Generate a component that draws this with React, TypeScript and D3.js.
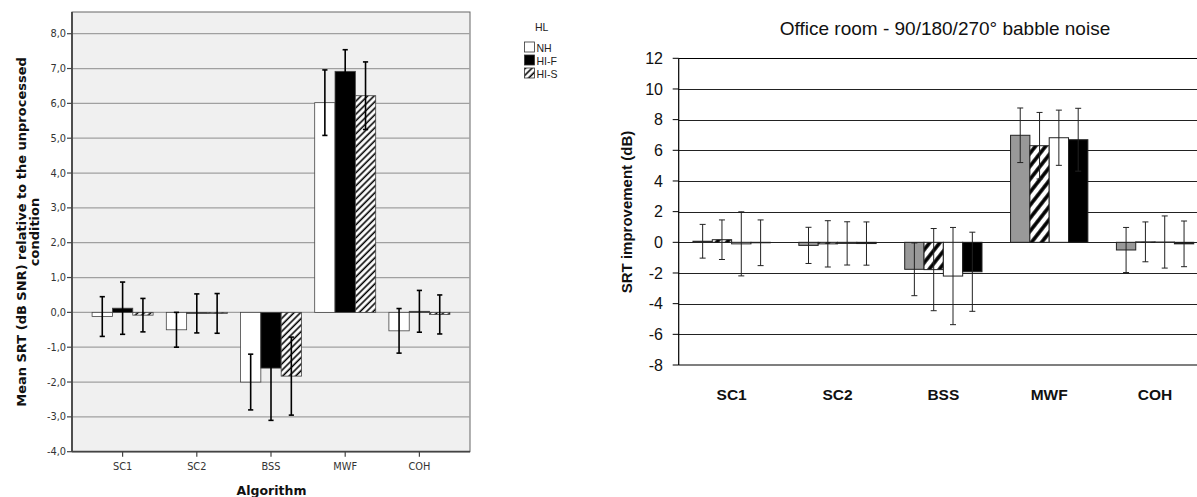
import React from "react";
import * as d3 from "d3";

// ---------- Left panel data (SPSS chart) ----------
const leftCats = ["SC1", "SC2", "BSS", "MWF", "COH"];
const leftSeries = ["NH", "HI-F", "HI-S"];
const nhMean = [-0.12, -0.5, -2.0, 6.02, -0.53];
const nhErr = [0.57, 0.5, 0.8, 0.94, 0.64];
const hifMean = [0.12, -0.03, -1.6, 6.92, 0.03];
const hifErr = [0.75, 0.56, 1.5, 0.62, 0.6];
const hisMean = [-0.08, -0.03, -1.83, 6.22, -0.06];
const hisErr = [0.48, 0.57, 1.12, 0.97, 0.56];
const leftTicks = [-4, -3, -2, -1, 0, 1, 2, 3, 4, 5, 6, 7, 8];

// ---------- Right panel data (Excel chart) ----------
const rightCats = ["SC1", "SC2", "BSS", "MWF", "COH"];
const rightSeries = ["gray", "hatched", "white", "black"];
const grayMean = [0.07, -0.2, -1.76, 6.98, -0.5];
const grayErr = [1.1, 1.18, 1.72, 1.78, 1.47];
const hatchMean = [0.17, -0.1, -1.78, 6.3, 0.03];
const hatchErr = [1.29, 1.51, 2.68, 2.17, 1.3];
const whiteMean = [-0.1, -0.07, -2.2, 6.82, 0.02];
const whiteErr = [2.09, 1.41, 3.17, 1.8, 1.7];
const blackMean = [-0.03, -0.08, -1.92, 6.69, -0.1];
const blackErr = [1.49, 1.41, 2.58, 2.05, 1.49];
const rightTicks = [-8, -6, -4, -2, 0, 2, 4, 6, 8, 10, 12];

export default function App() {
  const W = 1197;
  const H = 497;

  // Left geometry
  const L = { x0: 72, x1: 470, y0: 12, y1: 451.7 };
  const yL = d3.scaleLinear().domain([-4, 8]).range([451.7, 33.7]);
  const xL = d3.scalePoint<string>().domain(leftCats).range([L.x0, L.x1]).padding(0.682);
  const xLs = d3.scaleBand<string>().domain(leftSeries).range([-30.5, 30.5]);
  const leftData = [
    { s: "NH", mean: nhMean, err: nhErr, fill: "#ffffff" },
    { s: "HI-F", mean: hifMean, err: hifErr, fill: "#000000" },
    { s: "HI-S", mean: hisMean, err: hisErr, fill: "url(#hatchL)" },
  ];
  const fmt = (v: number) => v.toFixed(1).replace(".", ",");

  // Right geometry
  const R = { x0: 678.7, x1: 1208, y0: 58.3, y1: 365 };
  const yR = d3.scaleLinear().domain([-8, 12]).range([R.y1, R.y0]);
  const xR = d3.scaleBand<string>().domain(rightCats).range([R.x0, R.x1]);
  const xRs = d3.scaleBand<string>().domain(rightSeries).range([-38.65, 38.65]);
  const rightData = [
    { s: "gray", mean: grayMean, err: grayErr, fill: "#999999" },
    { s: "hatched", mean: hatchMean, err: hatchErr, fill: "url(#hatchR)" },
    { s: "white", mean: whiteMean, err: whiteErr, fill: "#ffffff" },
    { s: "black", mean: blackMean, err: blackErr, fill: "#000000" },
  ];

  const sansL = "'DejaVu Sans', Verdana, sans-serif";
  const arial = "'Liberation Sans', Arial, sans-serif";

  return (
    <svg
      width={W}
      height={H}
      style={{ position: "absolute", left: 0, top: 0, background: "#fff" }}
    >
      <defs>
        <pattern id="hatchL" patternUnits="userSpaceOnUse" width={4.6} height={4.6} patternTransform="rotate(45)">
          <rect width={4.6} height={4.6} fill="#fff" />
          <line x1={1.2} y1={0} x2={1.2} y2={4.6} stroke="#000" strokeWidth={1.6} />
        </pattern>
        <pattern id="hatchR" patternUnits="userSpaceOnUse" width={8} height={8} patternTransform="rotate(38)">
          <rect width={8} height={8} fill="#fff" />
          <line x1={2} y1={0} x2={2} y2={8} stroke="#000" strokeWidth={3.6} />
        </pattern>
      </defs>

      {/* ================= LEFT PANEL ================= */}
      <rect x={L.x0} y={L.y0} width={L.x1 - L.x0} height={L.y1 - L.y0} fill="#f0f0f0" stroke="#666" strokeWidth={1} />
      {leftTicks.filter((t) => t > -4).map((t) => (
        <line key={"lg" + t} x1={L.x0} x2={L.x1} y1={yL(t)} y2={yL(t)} stroke="#a0a0a0" strokeWidth={1.2} />
      ))}
      {/* bars */}
      {leftData.map((d) =>
        leftCats.map((c, i) => {
          const v = d.mean[i];
          const x = (xL(c) as number) + (xLs(d.s) as number);
          const w = xLs.bandwidth();
          return (
            <rect
              key={"lb" + d.s + c}
              x={x}
              y={Math.min(yL(v), yL(0))}
              width={w}
              height={Math.abs(yL(v) - yL(0))}
              fill={d.fill}
              stroke="#444"
              strokeWidth={0.8}
            />
          );
        })
      )}
      {/* error bars */}
      {leftData.map((d) =>
        leftCats.map((c, i) => {
          const v = d.mean[i];
          const e = d.err[i];
          const cx = (xL(c) as number) + (xLs(d.s) as number) + xLs.bandwidth() / 2;
          return (
            <g key={"le" + d.s + c} stroke="#000" strokeWidth={1.6}>
              <line x1={cx} x2={cx} y1={yL(v + e)} y2={yL(v - e)} />
              <line x1={cx - 2.6} x2={cx + 2.6} y1={yL(v + e)} y2={yL(v + e)} />
              <line x1={cx - 2.6} x2={cx + 2.6} y1={yL(v - e)} y2={yL(v - e)} />
            </g>
          );
        })
      )}
      {/* axes */}
      <line x1={L.x0} x2={L.x0} y1={L.y0} y2={L.y1} stroke="#444" strokeWidth={1.8} />
      <line x1={L.x0} x2={L.x1} y1={L.y1} y2={L.y1} stroke="#444" strokeWidth={1.8} />
      {leftTicks.map((t) => (
        <g key={"lt" + t}>
          <line x1={L.x0 - 5} x2={L.x0} y1={yL(t)} y2={yL(t)} stroke="#444" strokeWidth={1.2} />
          <text x={L.x0 - 6} y={yL(t) + 3.5} textAnchor="end" fontFamily={sansL} fontSize={9.8} fill="#333">
            {fmt(t)}
          </text>
        </g>
      ))}
      {leftCats.map((c) => (
        <g key={"lx" + c}>
          <line x1={xL(c)} x2={xL(c)} y1={L.y1} y2={L.y1 + 5} stroke="#444" strokeWidth={1.2} />
          <text x={xL(c)} y={470} textAnchor="middle" fontFamily={sansL} fontSize={9.8} fill="#333">
            {c}
          </text>
        </g>
      ))}
      <text x={271.5} y={495} textAnchor="middle" fontFamily={sansL} fontWeight="bold" fontSize={12.5} fill="#111">
        Algorithm
      </text>
      <text transform={`translate(26,232) rotate(-90)`} textAnchor="middle" fontFamily={sansL} fontWeight="bold" fontSize={13} fill="#111">
        Mean SRT (dB SNR) relative to the unprocessed
      </text>
      <text transform={`translate(39,232) rotate(-90)`} textAnchor="middle" fontFamily={sansL} fontWeight="bold" fontSize={13} fill="#111">
        condition
      </text>
      {/* legend */}
      <text x={541.7} y={31} textAnchor="middle" fontFamily={arial} fontSize={10.5} fill="#222">
        HL
      </text>
      {leftData.map((d, i) => (
        <g key={"lg" + d.s}>
          <rect x={524.5} y={42 + i * 13} width={10} height={10} fill={d.fill} stroke="#333" strokeWidth={0.8} />
          <text x={536.5} y={51.5 + i * 13} fontFamily={arial} fontSize={10.5} fill="#222">
            {d.s}
          </text>
        </g>
      ))}

      {/* ================= RIGHT PANEL ================= */}
      <text x={945} y={35} textAnchor="middle" fontFamily={arial} fontSize={19} fill="#111">
        Office room - 90/180/270° babble noise
      </text>
      {rightTicks.filter((t) => t > -8).map((t) => (
        <line
          key={"rg" + t}
          x1={R.x0}
          x2={R.x1}
          y1={Math.round(yR(t)) + 0.5}
          y2={Math.round(yR(t)) + 0.5}
          stroke={t === 12 ? "#000" : "#222"}
          strokeWidth={1}
        />
      ))}
      {rightData.map((d) =>
        rightCats.map((c, i) => {
          const v = d.mean[i];
          const x = (xR(c) as number) + xR.bandwidth() / 2 + (xRs(d.s) as number);
          return (
            <rect
              key={"rb" + d.s + c}
              x={x}
              y={Math.min(yR(v), yR(0))}
              width={xRs.bandwidth()}
              height={Math.abs(yR(v) - yR(0))}
              fill={d.fill}
              stroke="#222"
              strokeWidth={1}
            />
          );
        })
      )}
      {rightData.map((d) =>
        rightCats.map((c, i) => {
          const v = d.mean[i];
          const e = d.err[i];
          const cx = (xR(c) as number) + xR.bandwidth() / 2 + (xRs(d.s) as number) + xRs.bandwidth() / 2;
          return (
            <g key={"re" + d.s + c} stroke="#222" strokeWidth={1}>
              <line x1={cx} x2={cx} y1={yR(v + e)} y2={yR(v - e)} />
              <line x1={cx - 3} x2={cx + 3} y1={yR(v + e)} y2={yR(v + e)} />
              <line x1={cx - 3} x2={cx + 3} y1={yR(v - e)} y2={yR(v - e)} />
            </g>
          );
        })
      )}
      <line x1={R.x0} x2={R.x1} y1={R.y1} y2={R.y1} stroke="#555" strokeWidth={1.6} />
      <line x1={R.x0} x2={R.x0} y1={R.y0} y2={R.y1} stroke="#000" strokeWidth={1.2} />
      {rightTicks.map((t) => (
        <g key={"rt" + t}>
          <line x1={R.x0 - 6} x2={R.x0} y1={yR(t)} y2={yR(t)} stroke="#000" strokeWidth={1} />
          <text x={663} y={yR(t) + 5.8} textAnchor="end" fontFamily={arial} fontSize={16} fill="#111">
            {t}
          </text>
        </g>
      ))}
      {rightCats.map((c) => (
        <text key={"rx" + c} x={(xR(c) as number) + xR.bandwidth() / 2} y={400} textAnchor="middle" fontFamily={arial} fontWeight="bold" fontSize={15.5} fill="#111">
          {c}
        </text>
      ))}
      <text transform={`translate(632,212) rotate(-90)`} textAnchor="middle" fontFamily={arial} fontWeight="bold" fontSize={15} fill="#111">
        SRT improvement (dB)
      </text>
    </svg>
  );
}
